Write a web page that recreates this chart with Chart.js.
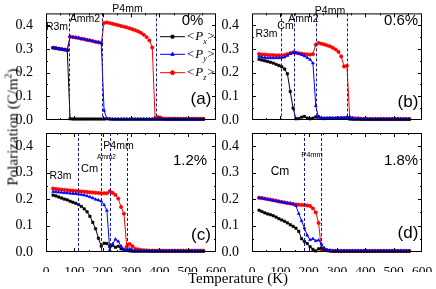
<!DOCTYPE html>
<html>
<head>
<meta charset="utf-8">
<script src="https://cdn.jsdelivr.net/npm/chart.js@4.4.0/dist/chart.umd.min.js"></script>
<style>
  body { margin: 0; background: #fff; }
  #wrap { position: relative; width: 436px; height: 289px; overflow: hidden; }
  canvas { position: absolute; left: 0; top: 0; }
  .title { position: absolute; font-family: "Liberation Serif", serif; font-size: 15px; color: #000; white-space: nowrap; }
  .title sup { font-size: 10px; }
  #xt { left: 238px; top: 278px; transform: translate(-50%, -50%); }
  #yt { left: 12px; top: 127px; transform: translate(-50%, -50%) rotate(-90deg); }
</style>
</head>
<body>
<div id="wrap">
  <canvas id="pa" width="436" height="289"></canvas>
  <canvas id="pb" width="436" height="289"></canvas>
  <canvas id="pc" width="436" height="289"></canvas>
  <canvas id="pd" width="436" height="289"></canvas>
  <div class="title" id="xt">Temperature (K)</div>
  <div class="title" id="yt">Polarization (C/m<sup>2</sup>)</div>
</div>
<script>
// temperatures (K)
const temps = [25,35,45,55,65,75,85,95,105,115,125,135,145,155,165,175,185,195,205,215,225,235,245,255,265,275,285,295,305,315,325,335,345,355,365,375,385,395,405,415,425,435,445,455,465,475,485,495,505,515,525,535,545,555];

const xTicks = [0, 100, 200, 300, 400, 500, 600];
const yTicks = [0, 0.1, 0.2, 0.3, 0.4];

// (a) 0%
const pxA = [.305,.303,.301,.299,.297,.295,.005,.004,.004,.004,
  .004,.004,.004,.004,.004,.004,.004,.004,.004,.005,
  .004,.003,.003,.003,.003,.003,.003,.003,.003,.003,
  .003,.003,.003,.003,.003,.003,.003,.003,.003,.003,
  .003,.003,.003,.003,.003,.003,.003,.003,.003,.003,
  .003,.003,.003,.003];
const pyA = [.305,.303,.301,.299,.297,.295,.352,.350,.348,.346,
  .343,.341,.338,.336,.333,.330,.328,.325,.040,.006,
  .005,.004,.004,.004,.004,.004,.004,.004,.004,.004,
  .004,.004,.004,.004,.004,.004,.004,.004,.004,.004,
  .003,.003,.003,.003,.003,.003,.003,.003,.003,.003,
  .003,.003,.003,.003];
const pzA = [.305,.303,.301,.299,.297,.295,.352,.350,.348,.346,
  .343,.341,.338,.336,.333,.330,.328,.325,.410,.412,
  .409,.406,.403,.400,.397,.394,.391,.387,.383,.379,
  .374,.368,.360,.350,.336,.306,.008,.012,.010,.006,
  .005,.005,.005,.005,.005,.005,.005,.005,.005,.005,
  .005,.005,.005,.005];

// (b) 0.6%
const pxB = [.256,.253,.250,.247,.244,.240,.235,.230,.225,.215,
  .195,.120,.050,.005,.006,.012,.015,.008,.005,.008,
  .013,.014,.008,.006,.007,.008,.007,.008,.007,.009,
  .008,.010,.004,.003,.003,.003,.003,.003,.003,.003,
  .003,.003,.003,.003,.003,.003,.003,.003,.003,.003,
  .003,.003,.003,.003];
const pyB = [.268,.265,.263,.262,.262,.262,.262,.262,.263,.265,
  .272,.280,.285,.284,.280,.276,.270,.263,.255,.240,
  .060,.010,.009,.008,.008,.009,.008,.008,.009,.010,
  .010,.011,.013,.008,.006,.005,.004,.004,.004,.004,
  .004,.004,.004,.004,.004,.004,.004,.004,.004,.004,
  .004,.004,.004,.004];
const pzB = [.279,.277,.276,.275,.274,.274,.273,.273,.273,.275,
  .278,.282,.285,.284,.282,.280,.278,.277,.276,.278,
  .318,.325,.322,.319,.315,.311,.305,.298,.288,.268,
  .226,.229,.010,.008,.007,.007,.005,.004,.004,.004,
  .004,.004,.004,.004,.004,.004,.004,.004,.004,.004,
  .004,.004,.004,.004];

// (c) 1.2%
const pxC = [.215,.212,.208,.204,.200,.197,.192,.188,.184,.179,
  .172,.163,.152,.135,.112,.088,.052,.022,.033,.032,
  .020,.025,.018,.022,.012,.010,.006,.004,.003,.003,
  .003,.003,.003,.003,.003,.003,.003,.003,.003,.003,
  .003,.003,.003,.003,.003,.003,.003,.003,.003,.003,
  .003,.003,.003,.003];
const pyC = [.228,.227,.226,.225,.224,.223,.222,.221,.220,.219,
  .217,.215,.212,.208,.204,.199,.196,.192,.178,.157,
  .008,.030,.048,.040,.022,.010,.008,.012,.006,.004,
  .004,.004,.004,.004,.004,.004,.004,.004,.004,.004,
  .004,.004,.004,.004,.004,.004,.004,.004,.004,.004,
  .004,.004,.004,.004];
const pzC = [.240,.238,.237,.236,.235,.234,.233,.232,.231,.230,
  .229,.228,.227,.226,.225,.224,.223,.222,.222,.222,
  .230,.224,.216,.202,.170,.145,.020,.030,.022,.012,
  .010,.008,.007,.006,.005,.005,.005,.005,.005,.005,
  .005,.005,.005,.005,.005,.005,.005,.005,.005,.005,
  .005,.005,.005,.005];

// (d) 1.8%
const pxD = [.158,.153,.148,.144,.141,.137,.132,.126,.121,.116,
  .110,.103,.097,.090,.078,.050,.040,.032,.020,.010,
  .004,.012,.015,.010,.006,.004,.003,.003,.003,.003,
  .003,.003,.003,.003,.003,.003,.003,.003,.003,.003,
  .003,.003,.003,.003,.003,.003,.003,.003,.003,.003,
  .003,.003,.003,.003];
const pyD = [.205,.203,.201,.199,.197,.195,.193,.191,.189,.187,
  .185,.184,.182,.175,.145,.118,.090,.063,.046,.050,
  .042,.045,.030,.015,.008,.006,.005,.005,.005,.005,
  .005,.005,.005,.005,.005,.005,.005,.005,.005,.005,
  .005,.005,.005,.005,.005,.005,.005,.005,.005,.005,
  .005,.005,.005,.005];
const pzD = [.205,.204,.202,.200,.198,.196,.194,.191,.189,.187,
  .185,.183,.181,.180,.179,.178,.178,.176,.174,.165,
  .150,.110,.010,.008,.006,.005,.004,.004,.004,.004,
  .004,.004,.004,.004,.004,.004,.004,.004,.004,.004,
  .004,.004,.004,.004,.004,.004,.004,.004,.004,.004,
  .004,.004,.004,.004];

// phase boundaries (K)
const boundsA = [81, 198, 388];
const boundsB = [102, 148, 226, 336];
const boundsC = [112, 194, 226, 285];
const boundsD = [185, 243];

const series = [
  { name: 'x', color: '#000000', style: 'rect', order: 1 },
  { name: 'y', color: '#0000ff', style: 'triangle', order: 0 },
  { name: 'z', color: '#ff0000', style: 'circle', order: 2 }
];

const W = 436, H = 289, Y_W = 40, X_H = 20;
const serif = '"Liberation Serif", "Times New Roman", serif';
const sans = '"Liberation Sans", Arial, sans-serif';

function panelPlugin(cfg) {
  return {
    id: 'panel',
    afterDatasetsDraw(chart) {
      const { ctx, chartArea: a, scales: { x, y } } = chart;
      ctx.save();
      // dashed phase boundaries
      ctx.strokeStyle = '#16169a';
      ctx.lineWidth = 1;
      ctx.setLineDash([3, 2]);
      cfg.bounds.forEach(t => {
        const px = Math.round(x.getPixelForValue(t)) + 0.5;
        ctx.beginPath();
        ctx.moveTo(px, a.top);
        ctx.lineTo(px, a.bottom);
        ctx.stroke();
      });
      ctx.setLineDash([]);

      // frame and inward ticks
      ctx.strokeStyle = '#000';
      ctx.strokeRect(a.left + 0.5, a.top + 0.5, a.right - a.left - 1, a.bottom - a.top - 1);
      ctx.beginPath();
      for (let t = 50; t < 600; t += 50) {
        const px = Math.round(x.getPixelForValue(t)) + 0.5;
        const len = t % 100 === 0 ? 4 : 2;
        ctx.moveTo(px, a.bottom); ctx.lineTo(px, a.bottom - len);
        ctx.moveTo(px, a.top); ctx.lineTo(px, a.top + len);
      }
      for (let k = 1; k < 9; k++) {
        const py = Math.round(y.getPixelForValue(k * 0.05)) + 0.5;
        const len = k % 2 === 0 ? 4 : 2;
        ctx.moveTo(a.left, py); ctx.lineTo(a.left + len, py);
        ctx.moveTo(a.right, py); ctx.lineTo(a.right - len, py);
      }
      ctx.stroke();

      // annotations
      ctx.fillStyle = '#000';
      ctx.textAlign = 'center';
      ctx.textBaseline = 'middle';
      cfg.notes.forEach(n => {
        ctx.font = n.size + 'px ' + sans;
        ctx.fillText(n.text, n.x, n.y);
      });

      // legend
      if (cfg.legend) {
        series.forEach((s, i) => {
          const ly = cfg.legend.y[i];
          ctx.strokeStyle = s.color;
          ctx.fillStyle = s.color;
          ctx.lineWidth = 1;
          ctx.beginPath();
          ctx.moveTo(cfg.legend.x, ly);
          ctx.lineTo(cfg.legend.x + 25, ly);
          ctx.stroke();
          Chart.helpers.drawPoint(ctx, { pointStyle: s.style, radius: 2, borderWidth: 1, rotation: 0 }, cfg.legend.x + 12.5, ly);
          ctx.fillStyle = '#000';
          ctx.textAlign = 'left';
          let tx = cfg.legend.x + 27;
          ctx.font = '13px ' + serif;
          ctx.fillText('<', tx, ly);
          tx += ctx.measureText('<').width + 1;
          ctx.font = 'italic 13px ' + serif;
          ctx.fillText('P', tx, ly);
          tx += ctx.measureText('P').width;
          ctx.font = 'italic 8px ' + serif;
          ctx.fillText(s.name, tx, ly + 5);
          tx += 4;
          ctx.font = '13px ' + serif;
          ctx.fillText('>', tx, ly);
        });
      }
      ctx.restore();
    }
  };
}

function makePanel(id, rect, values, bounds, notes, showX, legend) {
  const datasets = series.map((s, i) => ({
    label: 'P' + s.name,
    data: temps.map((t, k) => ({ x: t, y: values[i][k] })),
    borderColor: s.color,
    backgroundColor: s.color,
    pointBackgroundColor: s.color,
    pointBorderColor: s.color,
    pointStyle: s.style,
    pointRadius: 1.7,
    pointBorderWidth: 0.6,
    borderWidth: 1,
    order: s.order,
    clip: 5
  }));
  new Chart(document.getElementById(id), {
    type: 'line',
    data: { datasets },
    options: {
      responsive: false,
      animation: false,
      devicePixelRatio: 1,
      layout: {
        padding: { left: rect.l - Y_W, top: rect.t, right: W - rect.r, bottom: H - rect.b - X_H }
      },
      plugins: { legend: { display: false }, tooltip: { enabled: false } },
      scales: {
        x: {
          type: 'linear', min: 0, max: 600,
          grid: { display: false },
          border: { display: false },
          afterFit: s => { s.height = X_H; },
          afterBuildTicks: s => { s.ticks = xTicks.map(v => ({ value: v })); },
          ticks: {
            display: showX, maxRotation: 0, autoSkip: false, padding: 3,
            color: '#000', font: { family: serif, size: 13.5 }
          }
        },
        y: {
          type: 'linear', min: 0, max: 0.45,
          grid: { display: false },
          border: { display: false },
          afterFit: s => { s.width = Y_W; },
          afterBuildTicks: s => { s.ticks = yTicks.map(v => ({ value: v })); },
          ticks: {
            padding: 5, color: '#000',
            font: { family: serif, size: 14 },
            callback: v => v.toFixed(1)
          }
        }
      }
    },
    plugins: [panelPlugin({ bounds, notes, legend })]
  });
}

makePanel('pa', { l: 46, t: 2, r: 216, b: 120 }, [pxA, pyA, pzA], boundsA, [
  { text: 'R3m', x: 57, y: 27.5, size: 10.5 },
  { text: 'Amm2', x: 85, y: 19, size: 10.5 },
  { text: 'P4mm', x: 127.5, y: 9, size: 10.5 },
  { text: '0%', x: 192.5, y: 21, size: 15 },
  { text: '(a)', x: 201, y: 99.5, size: 17 }
], false, { x: 160, y: [36.7, 54.3, 72.7] });

makePanel('pb', { l: 252, t: 2, r: 422, b: 120 }, [pxB, pyB, pzB], boundsB, [
  { text: 'R3m', x: 266.5, y: 34, size: 10.5 },
  { text: 'Cm', x: 285.5, y: 26, size: 10.5 },
  { text: 'Amm2', x: 303.5, y: 19, size: 10.5 },
  { text: 'P4mm', x: 330, y: 11, size: 10.5 },
  { text: '0.6%', x: 401, y: 21, size: 15 },
  { text: '(b)', x: 408, y: 102, size: 17 }
], false, null);

makePanel('pc', { l: 46, t: 133, r: 216, b: 252 }, [pxC, pyC, pzC], boundsC, [
  { text: 'R3m', x: 60.5, y: 176, size: 10.5 },
  { text: 'Cm', x: 89.5, y: 169, size: 11 },
  { text: 'Amm2', x: 106.5, y: 157, size: 6.5 },
  { text: 'P4mm', x: 118.5, y: 146, size: 10.5 },
  { text: '1.2%', x: 190, y: 161, size: 15 },
  { text: '(c)', x: 201, y: 235, size: 17 }
], true, null);

makePanel('pd', { l: 252, t: 133, r: 422, b: 252 }, [pxD, pyD, pzD], boundsD, [
  { text: 'Cm', x: 280, y: 172, size: 12 },
  { text: 'P4mm', x: 312, y: 155, size: 7.5 },
  { text: '1.8%', x: 401, y: 161, size: 15 },
  { text: '(d)', x: 408, y: 233, size: 17 }
], true, null);
</script>
</body>
</html>
